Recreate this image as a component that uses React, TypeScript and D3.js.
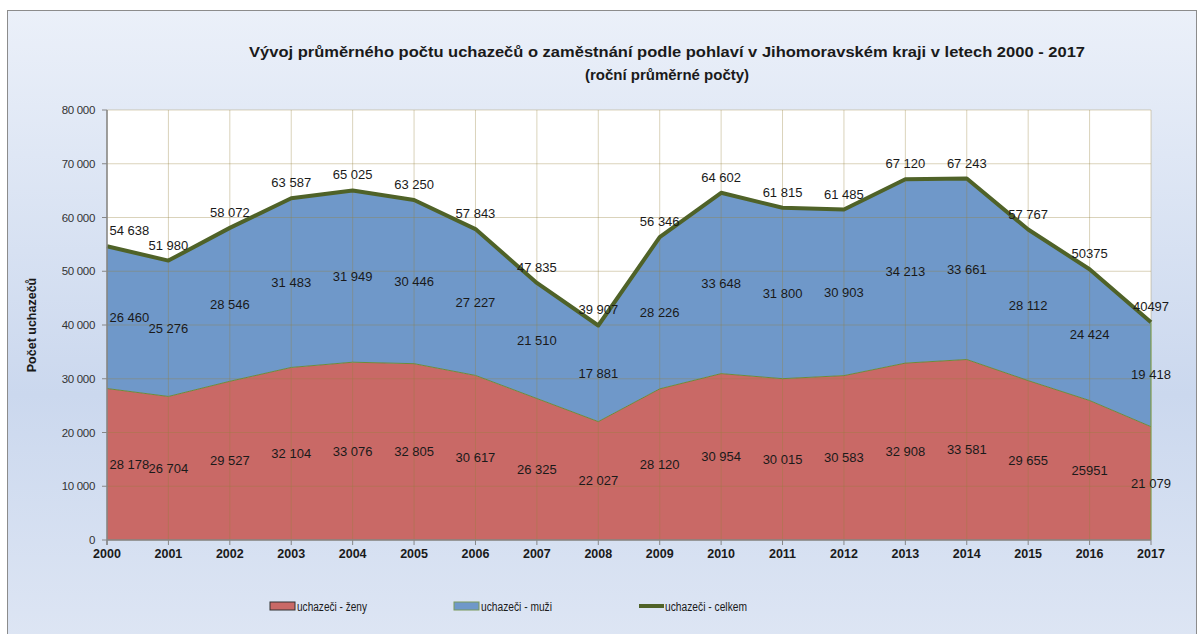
import React from "react";
import * as d3 from "d3";

const years = [2000, 2001, 2002, 2003, 2004, 2005, 2006, 2007, 2008, 2009, 2010, 2011, 2012, 2013, 2014, 2015, 2016, 2017];
const women = [28178, 26704, 29527, 32104, 33076, 32805, 30617, 26325, 22027, 28120, 30954, 30015, 30583, 32908, 33581, 29655, 25951, 21079];
const men = [26460, 25276, 28546, 31483, 31949, 30446, 27227, 21510, 17881, 28226, 33648, 31800, 30903, 34213, 33661, 28112, 24424, 19418];
const total = [54638, 51980, 58072, 63587, 65025, 63250, 57843, 47835, 39907, 56346, 64602, 61815, 61485, 67120, 67243, 57767, 50375, 40497];
const womenLabels = ["28 178", "26 704", "29 527", "32 104", "33 076", "32 805", "30 617", "26 325", "22 027", "28 120", "30 954", "30 015", "30 583", "32 908", "33 581", "29 655", "25951", "21 079"];
const menLabels = ["26 460", "25 276", "28 546", "31 483", "31 949", "30 446", "27 227", "21 510", "17 881", "28 226", "33 648", "31 800", "30 903", "34 213", "33 661", "28 112", "24 424", "19 418"];
const totalLabels = ["54 638", "51 980", "58 072", "63 587", "65 025", "63 250", "57 843", "47 835", "39 907", "56 346", "64 602", "61 815", "61 485", "67 120", "67 243", "57 767", "50375", "40497"];
const yTicks = [0, 10000, 20000, 30000, 40000, 50000, 60000, 70000, 80000];
const yTickLabels = ["0", "10 000", "20 000", "30 000", "40 000", "50 000", "60 000", "70 000", "80 000"];
const legendItems = ["uchazeči - ženy", "uchazeči - muži", "uchazeči - celkem"];

const W = 1203, H = 634;
const left = 107, right = 1151, top = 110, bottom = 540;
const FONT = "'Liberation Sans', Arial, sans-serif";
const RED = "#c96966", BLUE = "#6f98c9", GREEN = "#4f6228";

export default function App() {
  const x = d3.scaleLinear().domain([years[0], years[years.length - 1]]).range([left, right]);
  const y = d3.scaleLinear().domain([0, 80000]).range([bottom, top]);
  const idx = years.map((_, i) => i);

  const areaWomen = d3.area<number>().x(i => x(years[i])).y0(() => y(0)).y1(i => y(women[i]))(idx) || "";
  const areaMen = d3.area<number>().x(i => x(years[i])).y0(i => y(women[i])).y1(i => y(women[i] + men[i]))(idx) || "";
  const lineWomen = d3.line<number>().x(i => x(years[i])).y(i => y(women[i]))(idx) || "";
  const lineTotal = d3.line<number>().x(i => x(years[i])).y(i => y(total[i]))(idx) || "";

  const charW = 7.1;
  const labelX = (i: number, txt: string) => {
    const cx = x(years[i]);
    const w = txt.length * charW;
    if (cx - w / 2 < left) return left + w / 2 + 1;
    return cx;
  };

  return (
    <svg width={W} height={H} style={{ position: "absolute", left: 0, top: 0 }} fontFamily={FONT}>
      <defs>
        <linearGradient id="bg" x1="0" y1="0" x2="0" y2="1">
          <stop offset="0" stopColor="#ebf0f9" />
          <stop offset="0.6" stopColor="#cbd8ee" />
          <stop offset="1" stopColor="#dee6f4" />
        </linearGradient>
      </defs>
      <rect x={0} y={0} width={W} height={H} fill="#ffffff" />
      <rect x={7.5} y={10.5} width={1189} height={640} fill="url(#bg)" stroke="#8c8c8c" strokeWidth={1} />

      <text x={667} y={57} textAnchor="middle" fontSize={15} fontWeight="bold" fill="#1a1a1a" textLength={836} lengthAdjust="spacingAndGlyphs">
        Vývoj  průměrného počtu uchazečů o zaměstnání podle pohlaví v Jihomoravském kraji v letech 2000 - 2017
      </text>
      <text x={667} y={80} textAnchor="middle" fontSize={15} fontWeight="bold" fill="#1a1a1a">
        (roční průměrné počty)
      </text>

      <rect x={left} y={top} width={right - left} height={bottom - top} fill="#ffffff" />
      <path d={areaWomen} fill={RED} />
      <path d={areaMen} fill={BLUE} />

      {yTicks.map(t => (
        <line key={"gy" + t} x1={left} x2={right} y1={y(t)} y2={y(t)} stroke="rgba(150,130,60,0.35)" strokeWidth={1} />
      ))}
      {years.map(yr => (
        <line key={"gx" + yr} x1={x(yr)} x2={x(yr)} y1={top} y2={bottom} stroke="rgba(150,130,60,0.35)" strokeWidth={1} />
      ))}

      <path d={lineWomen} fill="none" stroke="#6c8a3a" strokeWidth={1} />
      <path d={lineTotal} fill="none" stroke={GREEN} strokeWidth={4} strokeLinejoin="round" />
      <line x1={right} x2={right} y1={y(total[total.length - 1])} y2={bottom} stroke="#7aa04a" strokeWidth={1} />

      <line x1={left} x2={left} y1={top} y2={bottom + 5} stroke="#868686" strokeWidth={1.5} />
      <line x1={left} x2={right} y1={bottom} y2={bottom} stroke="#868686" strokeWidth={1.5} />
      {yTicks.map((t, i) => (
        <g key={"yt" + t}>
          <line x1={left - 5} x2={left} y1={y(t)} y2={y(t)} stroke="#868686" />
          <text x={left - 12} y={y(t) + 4} textAnchor="end" fontSize={11.5} fill="#333" letterSpacing={-0.3}>{yTickLabels[i]}</text>
        </g>
      ))}
      {years.map(yr => (
        <g key={"xt" + yr}>
          <line x1={x(yr)} x2={x(yr)} y1={bottom} y2={bottom + 5} stroke="#868686" />
          <text x={x(yr)} y={bottom + 18} textAnchor="middle" fontSize={12.5} fontWeight="bold" fill="#1a1a1a">{yr}</text>
        </g>
      ))}
      <text transform={`translate(36,${(top + bottom) / 2}) rotate(-90)`} textAnchor="middle" fontSize={12.5} fontWeight="bold" fill="#1a1a1a">
        Počet uchazečů
      </text>

      {idx.map(i => (
        <text key={"lw" + i} x={labelX(i, womenLabels[i])} y={y(women[i] / 2) + 4.5} textAnchor="middle" fontSize={13} fill="#1a1a1a">{womenLabels[i]}</text>
      ))}
      {idx.map(i => (
        <text key={"lm" + i} x={labelX(i, menLabels[i])} y={y(women[i] + men[i] / 2) + 4.5} textAnchor="middle" fontSize={13} fill="#1a1a1a">{menLabels[i]}</text>
      ))}
      {idx.map(i => (
        <text key={"lt" + i} x={labelX(i, totalLabels[i])} y={y(total[i]) - 11} textAnchor="middle" fontSize={13} fill="#1a1a1a">{totalLabels[i]}</text>
      ))}

      <g fontSize={12.5} fill="#1a1a1a">
        <rect x={270} y={602} width={25} height={8} fill={RED} stroke="#333" strokeWidth={1} />
        <text x={297} y={611} textLength={70} lengthAdjust="spacingAndGlyphs">{legendItems[0]}</text>
        <rect x={454} y={602} width={25} height={8} fill={BLUE} stroke="#7a9a5a" strokeWidth={1} />
        <text x={481} y={611} textLength={71} lengthAdjust="spacingAndGlyphs">{legendItems[1]}</text>
        <line x1={639} x2={664} y1={606} y2={606} stroke={GREEN} strokeWidth={4} />
        <text x={665} y={611} textLength={82} lengthAdjust="spacingAndGlyphs">{legendItems[2]}</text>
      </g>
    </svg>
  );
}
